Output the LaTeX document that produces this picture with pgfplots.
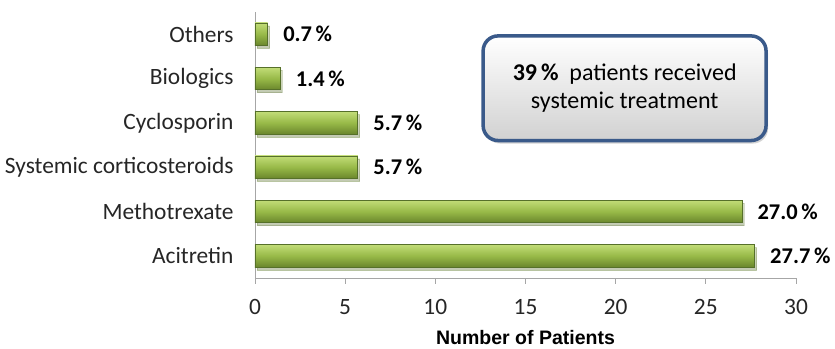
\documentclass[border=0pt]{standalone}
\usepackage{pgfplots}
\pgfplotsset{compat=1.18}
\usepackage{fontspec}
\setmainfont{Carlito}
\newfontfamily\arialf{Liberation Sans}
\usetikzlibrary{shadows}
\definecolor{barTop}{HTML}{C2DC78}
\definecolor{barMid}{HTML}{98BA48}
\definecolor{barBot}{HTML}{6A862C}
\definecolor{barEdge}{HTML}{56702A}
\definecolor{boxEdge}{HTML}{3A5A8A}
\definecolor{axgray}{HTML}{A6A6A6}
\pgfplotsset{greenbar/.style={draw=barEdge, line width=0.7bp, top color=barTop, bottom color=barBot, middle color=barMid,
  bar shift=0pt, drop shadow={shadow xshift=2bp, shadow yshift=-3bp, opacity=0.25}}}
\begin{document}
\begin{tikzpicture}[x=1bp,y=1bp]
\begin{axis}[
  at={(0,0)}, anchor=origin,
  scale only axis, width=541bp, height=266bp,
  xbar, bar width=22.5bp,
  xmin=0, xmax=30, ymin=-0.5, ymax=5.5,
  axis x line*=bottom, axis y line*=left,
  axis line style={axgray, line width=0.9bp},
  xtick={0,5,...,30},
  ytick={0,1,2,3,4,5},
  yticklabels={Acitretin,Methotrexate,Systemic corticosteroids,Cyclosporin,Biologics,Others},
  minor ytick={-0.5,0.5,...,5.5},
  major tick length=6bp, minor tick length=6bp,
  tick align=outside,
  tick style={axgray, line width=0.9bp},
  ytick style={draw=none},
  minor tick style={axgray, line width=0.9bp, draw=axgray},
  /pgf/number format/assume math mode=true,
  tick label style={font=\fontsize{23.4bp}{27bp}\selectfont, text=black!85},
  xticklabel style={yshift=-12bp},
  yticklabel style={xshift=-12bp},
  xlabel={\arialf\bfseries Number of Patients},
  xlabel style={font=\fontsize{19.5bp}{23bp}\selectfont, at={(axis description cs:0.5,0)}, anchor=center, yshift=-60bp},
  nodes near coords={\bfseries\pgfmathprintnumber[fixed,fixed zerofill,precision=1]{\pgfplotspointmeta}\hspace{0.16em}\%},
  nodes near coords align={horizontal},
  every node near coord/.append style={font=\fontsize{22.5bp}{27bp}\selectfont, anchor=west, xshift=12bp, text=black},
  point meta=explicit,
  clip=false,
]
\addplot[greenbar] coordinates {(27.7,0) [27.7]};
\addplot[greenbar] coordinates {(27.0,1) [27.0]};
\addplot[greenbar] coordinates {(5.7,2) [5.7]};
\addplot[greenbar] coordinates {(5.7,3) [5.7]};
\addplot[greenbar] coordinates {(1.4,4) [1.4]};
\addplot[greenbar] coordinates {(0.7,5) [0.7]};
\draw[boxEdge, line width=3.5bp, rounded corners=15bp, top color=white, bottom color=black!18,
  drop shadow={shadow xshift=2bp, shadow yshift=-3bp, opacity=0.35}]
  (axis cs:12.65,4.96) rectangle (axis cs:28.34,2.6);
\node[align=center, font=\fontsize{24bp}{28bp}\selectfont] at (axis cs:20.5,3.79)
  {\textbf{39\,\%}\ \ patients received\\systemic treatment};
\end{axis}
\pgfresetboundingbox
\path[use as bounding box] (-255,-92.2) rectangle (580,255.8);
\end{tikzpicture}
\end{document}
